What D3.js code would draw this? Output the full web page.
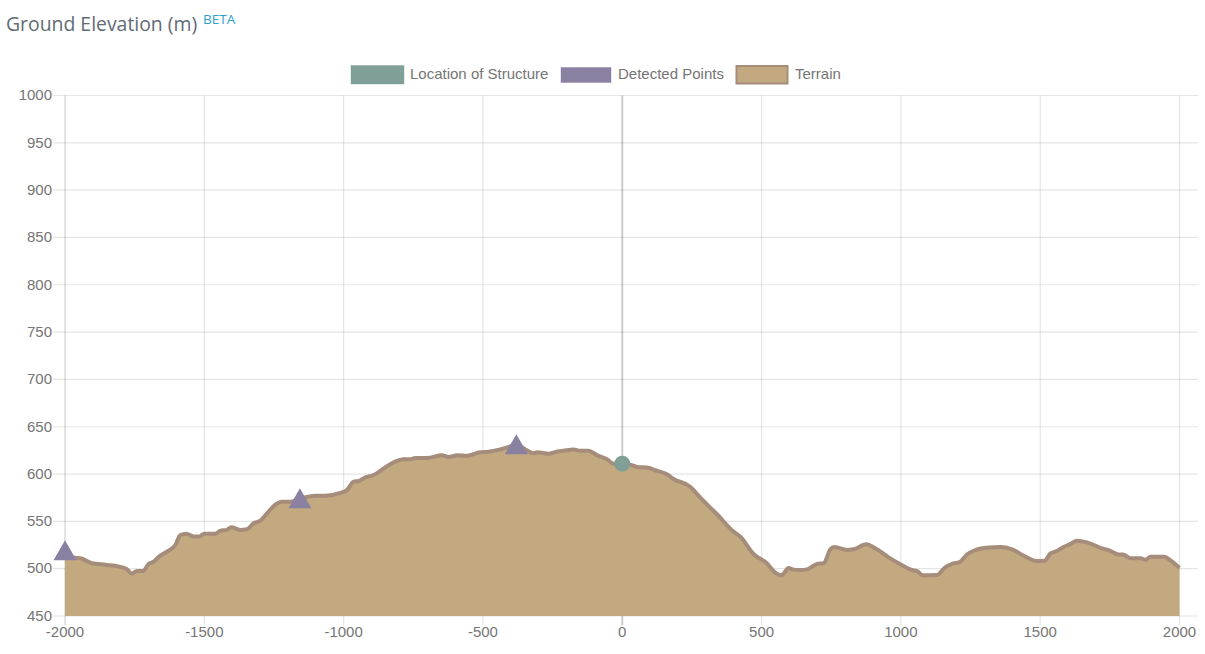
<!DOCTYPE html>
<html>
<head>
<meta charset="utf-8">
<title>Ground Elevation</title>
<script src="https://cdnjs.cloudflare.com/ajax/libs/d3/7.8.5/d3.min.js"></script>
<style>
  html, body { margin: 0; padding: 0; background: #fff; overflow: hidden; }
  svg { display: block; }
  text { font-family: "Liberation Sans", Arial, sans-serif; }
</style>
</head>
<body>
<figure id="chart" style="margin:0"></figure>
<script>
const xTicks = [-2000, -1500, -1000, -500, 0, 500, 1000, 1500, 2000]
const yTicks = [450, 500, 550, 600, 650, 700, 750, 800, 850, 900, 950, 1000]

const terrainX = [-2000, -1945, -1903, -1880, -1850, -1820, -1780, -1760, -1742, -1720, -1700, -1682, -1660, -1634, -1604, -1586, -1565, -1539, -1518, -1500,
  -1461, -1443, -1419, -1403, -1371, -1347, -1323, -1299, -1275, -1239, -1221, -1192, -1157, -1102, -1066, -1012, -988, -964, -946, -922,
  -892, -851, -809, -785, -761, -743, -701, -647, -623, -593, -557, -510, -480, -414, -380, -342, -318, -304, -264, -229,
  -211, -175, -151, -121, -91, -55, -31, 0, 29, 53, 89, 118, 160, 184, 244, 280, 340, 400, 424, 471,
  519, 549, 570, 578, 597, 615, 639, 663, 699, 723, 747, 761, 806, 830, 876, 908, 956, 992, 1040, 1058,
  1079, 1130, 1159, 1183, 1213, 1237, 1267, 1315, 1357, 1399, 1441, 1489, 1516, 1536, 1560, 1584, 1608, 1632, 1668, 1722,
  1745, 1781, 1797, 1824, 1860, 1878, 1896, 1945, 1969, 2000]
const terrainY = [512, 511, 505.7, 505, 504, 503, 500, 494.7, 497.5, 497.5, 505, 507.4, 513.4, 518, 525, 535.6, 537, 534, 534, 537,
  537, 540, 541, 543.7, 541, 541.6, 548, 550.7, 558.5, 569, 570.8, 570.8, 574, 577, 577, 580, 583, 592, 592.6, 596.5,
  599, 607, 614, 615.6, 615.6, 617, 617, 619.8, 618, 619.8, 619.4, 623, 623.6, 628, 631, 625, 622, 623, 621.5, 624,
  624.6, 626, 624.6, 624.6, 620, 615.6, 611, 611, 610, 607.5, 607, 604, 599.7, 594.8, 586.6, 575, 557.5, 539, 533.8, 515.5,
  505.7, 495.8, 493, 494.4, 500.7, 499, 498.6, 499.3, 505, 505.7, 520.5, 523, 519.7, 520.5, 525.7, 521.5, 512, 505.7, 498.6, 497.5,
  493, 493.3, 501.5, 505, 507.4, 515, 519.7, 522.5, 523, 520.5, 513.7, 508, 508.4, 516, 518.7, 523, 526, 529.5, 527.8, 521.5,
  519.7, 515, 515, 511, 511, 509.5, 512.7, 512.7, 508.4, 500.7]

const detectedX = [-2000, -1157, -380]
const detectedY = [516, 571, 628]
const structureX = [0]
const structureY = [611]

const legendLabels = ['Location of Structure', 'Detected Points', 'Terrain']

const colors = {
  structure: '#7f9f97',
  detected: '#8a80a2',
  terrain: '#c2a980',
  terrainLine: '#a68c7a'
}

const width = 1205
const height = 654

const x = d3.scaleLinear().domain([-2000, 2000]).range([65, 1179.5])
const y = d3.scaleLinear().domain([450, 1000]).range([616, 95.5])

const svg = d3.select('#chart')
  .append('svg')
  .attr('width', width)
  .attr('height', height)

// title
svg.append('text')
  .attr('x', 6)
  .attr('y', 31)
  .style('font-family', '"Open Sans", sans-serif')
  .style('font-size', '19.4px')
  .style('font-weight', 500)
  .attr('fill', '#5f6b75')
  .text('Ground Elevation (m)')

svg.append('text')
  .attr('x', 203)
  .attr('y', 24)
  .style('font-family', '"Open Sans", sans-serif')
  .style('font-size', '13.5px')
  .style('font-weight', 500)
  .attr('fill', '#2f9ed1')
  .text('BETA')

// grid lines and tick labels
const yAxis = svg.append('g')
  .attr('transform', 'translate(65,0)')
  .call(d3.axisLeft(y).offset(0).tickValues(yTicks).tickSize(12).tickPadding(1).tickFormat(d => d))
yAxis.select('.domain').remove()
yAxis.selectAll('.tick line')
  .attr('x1', -12)
  .attr('x2', 1133)
  .attr('stroke', 'rgba(0,0,0,0.1)')
  .attr('stroke-width', 1.2)

const xAxis = svg.append('g')
  .attr('transform', 'translate(0,95.5)')
  .call(d3.axisBottom(x).offset(0).tickValues(xTicks).tickSize(530).tickPadding(1).tickFormat(d => d))
xAxis.select('.domain').remove()
xAxis.selectAll('.tick line')
  .attr('stroke', d => d === 0 ? 'rgba(0,0,0,0.2)' : d === -2000 ? 'rgba(0,0,0,0.18)' : 'rgba(0,0,0,0.1)')
  .attr('stroke-width', d => d === 0 ? 2 : 1.2)

svg.selectAll('.tick text')
  .style('font-size', '15px')
  .style('font-family', '"Liberation Sans", Arial, sans-serif')
  .attr('fill', '#757575')

// terrain
const terrain = terrainX.map((d, i) => [d, terrainY[i]])

const area = d3.area()
  .x(d => x(d[0]))
  .y0(y(450))
  .y1(d => y(d[1]))
  .curve(d3.curveMonotoneX)

const line = d3.line()
  .x(d => x(d[0]))
  .y(d => y(d[1]))
  .curve(d3.curveMonotoneX)

svg.append('path')
  .datum(terrain)
  .attr('d', area)
  .attr('fill', colors.terrain)

svg.append('path')
  .datum(terrain)
  .attr('d', line)
  .attr('fill', 'none')
  .attr('stroke', colors.terrainLine)
  .attr('stroke-width', 4)

// markers
svg.selectAll('.detected')
  .data(detectedX)
  .enter()
  .append('path')
  .attr('class', 'detected')
  .attr('d', d3.symbol().type(d3.symbolTriangle).size(229))
  .attr('transform', (d, i) => `translate(${x(d)},${y(detectedY[i])})`)
  .attr('fill', colors.detected)

svg.selectAll('.structure')
  .data(structureX)
  .enter()
  .append('circle')
  .attr('class', 'structure')
  .attr('cx', d => x(d))
  .attr('cy', (d, i) => y(structureY[i]))
  .attr('r', 8)
  .attr('fill', colors.structure)

// legend
const legendBoxes = [
  { x: 351, y: 65.5, w: 53, h: 18.5, fill: colors.structure, stroke: 'rgba(127,159,151,0.4)', sw: 1, tx: 410 },
  { x: 561, y: 67.5, w: 50, h: 15, fill: colors.detected, stroke: 'rgba(138,128,162,0.4)', sw: 1, tx: 618 },
  { x: 736.5, y: 66, w: 51, h: 17.5, fill: colors.terrain, stroke: colors.terrainLine, sw: 2, tx: 795 }
]

legendBoxes.forEach((b, i) => {
  svg.append('rect')
    .attr('x', b.x)
    .attr('y', b.y)
    .attr('width', b.w)
    .attr('height', b.h)
    .attr('fill', b.fill)
    .attr('stroke', b.stroke)
    .attr('stroke-width', b.sw)
  svg.append('text')
    .attr('x', b.tx)
    .attr('y', 79)
    .style('font-size', '15px')
    .attr('fill', '#757575')
    .text(legendLabels[i])
})
</script>
</body>
</html>
